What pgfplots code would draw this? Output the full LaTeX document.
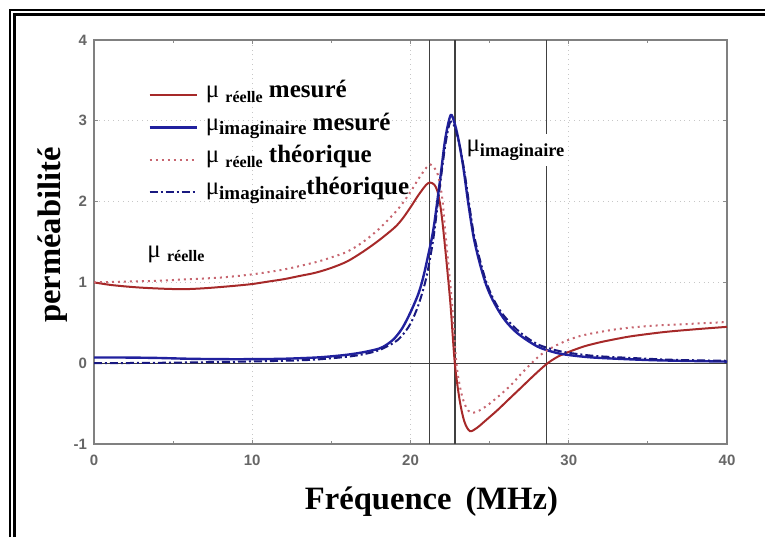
\documentclass[border=0pt]{standalone}
\usepackage{fontspec}
\setmainfont{Liberation Serif}
\setsansfont{Liberation Sans}
\usepackage{pgfplots}
\pgfplotsset{compat=1.18}

\definecolor{rouge}{rgb}{0.65,0.16,0.16}
\definecolor{rose}{rgb}{0.78,0.40,0.44}
\definecolor{bleu}{rgb}{0.13,0.13,0.62}
\definecolor{bleufonce}{rgb}{0.10,0.10,0.50}
\definecolor{trait}{rgb}{0.25,0.25,0.25}

\newcommand\sub[2][8]{\raisebox{-0.4ex}{\fontsize{#1}{#1}\selectfont\bfseries #2}}
\newcommand\mumu{{\mdseries μ}}

\begin{document}
\begin{tikzpicture}
\useasboundingbox (0,0) rectangle (382.5pt,268.5pt);
% double cadre (haut et gauche)
\draw[line width=0.85pt] (5.1pt,0) -- (5.1pt,263.4pt) -- (382.5pt,263.4pt);
\draw[line width=1.35pt] (7.25pt,0) -- (7.25pt,261.25pt) -- (382.5pt,261.25pt);

\begin{axis}[
    at={(47pt,46.5pt)}, anchor=south west,
    width=316.5pt, height=202pt, scale only axis,
    xmin=0, xmax=40, ymin=-1, ymax=4,
    xtick={0,10,20,30,40}, xticklabels={0,10,20,30,40},
    ytick={-1,0,1,2,3,4}, yticklabels={-1,0,1,2,3,4},
    minor x tick num=1,
    tick align=inside, major tick length=2.2pt, minor tick length=1.4pt,
    tick style={black!45, line width=0.5pt},
    ticklabel style={font=\fontsize{7.5}{9}\selectfont\sffamily\bfseries, text=black!60},
    xticklabel style={yshift=-2pt},
    grid=major, grid style={black!22, dotted, line width=0.6pt},
    axis line style={black!50, line width=0.8pt},
    xlabel={Fréquence\hspace{7pt}(MHz)},
    xlabel style={at={(axis description cs:0.533,-0.163)}, anchor=base,
        font=\fontsize{16.3}{18}\selectfont\bfseries},
    ylabel={perméabilité},
    ylabel style={at={(axis description cs:-0.066,0.517)}, anchor=center,
        font=\fontsize{16.3}{18}\selectfont\bfseries},
    legend image code/.code={\draw[#1] (0pt,-1.5pt) -- (23.5pt,-1.5pt);},
    legend style={at={(axis description cs:0.0853,0.905)}, anchor=north west,
        draw=none, fill=none, inner sep=0pt, row sep=2.7pt,
        /tikz/every odd column/.append style={column sep=4pt},
        nodes={inner sep=0pt, text height=9.5pt, text depth=4pt, anchor=west,
            font=\fontsize{12.5}{14}\selectfont\bfseries}},
    legend cell align=left,
]
% lignes de repere
\addplot[forget plot, trait, line width=0.7pt] coordinates {(21.2,-1) (21.2,4)};
\addplot[forget plot, trait, line width=0.7pt] coordinates {(22.8,-1) (22.8,4)};
\addplot[forget plot, trait, line width=0.7pt] coordinates {(28.6,-1) (28.6,4)};
\addplot[forget plot, trait, line width=0.7pt] coordinates {(0,0) (40,0)};

% mu reelle mesure
\addplot[rouge, line width=1pt, smooth] table {
x y
0 1.00
1 0.97
2 0.95
3 0.935
4 0.925
5 0.918
6 0.918
7 0.928
8 0.943
9 0.96
10 0.98
11 1.01
12 1.04
13 1.08
14 1.12
15 1.18
16 1.26
17 1.38
18 1.52
19 1.68
19.5 1.79
20 1.93
20.5 2.08
21 2.21
21.25 2.235
21.5 2.21
21.7 2.13
21.9 1.93
22.1 1.60
22.5 0.79
22.8 0.0
23.1 -0.45
23.4 -0.72
23.75 -0.84
24.2 -0.80
24.8 -0.70
25.5 -0.58
26.3 -0.43
27 -0.30
27.8 -0.15
28.6 -0.01
29.3 0.08
30 0.14
31 0.21
32 0.26
33 0.30
34 0.335
36 0.385
38 0.42
40 0.45
};
\addlegendentry{\mumu\ \sub{réelle} mesuré}

% mu imaginaire mesure
\addplot[bleu, line width=1.2pt, smooth] table {
x y
0 0.07
2 0.07
4 0.065
6 0.055
8 0.05
10 0.05
12 0.055
14 0.07
15 0.085
16 0.105
17 0.135
18 0.18
18.5 0.23
19 0.31
19.5 0.44
20 0.63
20.5 0.86
20.8 1.06
21.1 1.32
21.45 1.66
21.85 2.24
22.2 2.78
22.54 3.07
22.8 2.96
23.05 2.75
23.34 2.42
23.65 1.98
24.0 1.55
24.4 1.22
24.8 0.96
25.2 0.78
25.66 0.62
26.1 0.50
26.7 0.38
27.4 0.28
28.2 0.19
29.4 0.12
30.7 0.085
32 0.065
34.9 0.04
37 0.03
40 0.02
};
\addlegendentry{\mumu\sub[9.5]{imaginaire} mesuré}

% mu reelle theorique
\addplot[rose, line width=1pt, dotted, smooth] table {
x y
0 1.00
2 1.01
4 1.02
6 1.04
8 1.06
10 1.10
12 1.16
14 1.25
15 1.31
16 1.38
17 1.50
18 1.66
19 1.86
19.5 1.98
20 2.12
20.5 2.28
21 2.42
21.25 2.46
21.5 2.42
21.75 2.32
22.0 2.05
22.2 1.62
22.6 0.79
22.9 0.0
23.2 -0.36
23.5 -0.54
23.8 -0.61
24.2 -0.60
24.8 -0.53
25.5 -0.42
26.3 -0.28
27 -0.13
27.6 -0.01
28.2 0.10
29 0.20
30 0.29
31 0.35
33 0.42
35 0.46
37 0.48
40 0.51
};
\addlegendentry{\mumu\ \sub{réelle} théorique}

% mu imaginaire theorique
\addplot[bleufonce, line width=1pt, dash pattern=on 4pt off 1.5pt on 1pt off 1.5pt, smooth] table {
x y
0 0.0
4 0.005
8 0.015
12 0.03
14 0.045
16 0.08
17 0.11
18 0.16
19 0.26
19.5 0.35
20 0.49
20.5 0.72
21 1.06
21.45 1.55
21.85 2.18
22.2 2.70
22.5 2.98
22.8 2.92
23.1 2.70
23.4 2.38
23.7 1.98
24.0 1.60
24.4 1.27
24.8 1.00
25.2 0.81
25.7 0.64
26.2 0.52
26.7 0.42
27.4 0.31
28.2 0.22
29.4 0.15
30.7 0.11
32 0.085
35 0.055
37 0.04
40 0.03
};
\addlegendentry{\mumu\sub[9.5]{imaginaire}théorique}

\node[anchor=base west, inner sep=0pt, font=\fontsize{12.5}{14}\selectfont]
    at (axis cs:3.35,1.31) {\mumu\ \sub{réelle}};
\node[anchor=base west, fill=white, inner xsep=0.5pt, inner ysep=3pt,
    font=\fontsize{12.5}{14}\selectfont]
    at (axis cs:23.45,2.62) {\mumu\sub[9.2]{imaginaire}};
\end{axis}
\end{tikzpicture}
\end{document}
